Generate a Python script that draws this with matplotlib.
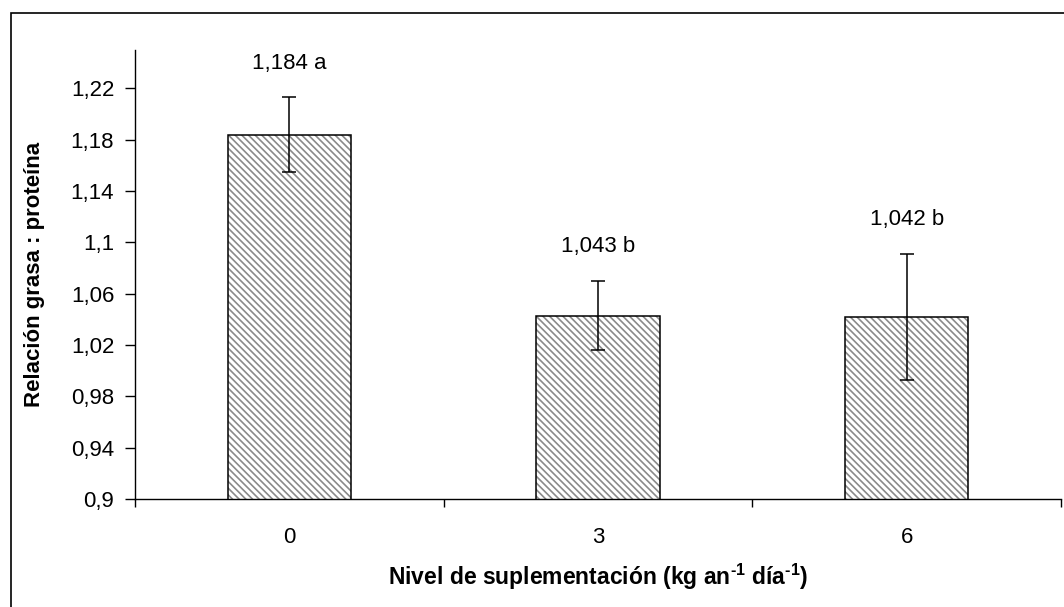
import matplotlib
matplotlib.use("Agg")
from matplotlib import pyplot as plt
from matplotlib.patches import Rectangle

niveles = ['0', '3', '6']
relacion = [1.184, 1.043, 1.042]
error = [0.029, 0.027, 0.049]
letras = ['a', 'b', 'b']
yticks = [0.9, 0.94, 0.98, 1.02, 1.06, 1.1, 1.14, 1.18, 1.22]

plt.rcParams['font.family'] = ['Liberation Sans', 'DejaVu Sans']
plt.rcParams['hatch.linewidth'] = 1.2
plt.rcParams['mathtext.fontset'] = 'custom'
plt.rcParams['mathtext.rm'] = 'Liberation Sans:bold'
plt.rcParams['mathtext.bf'] = 'Liberation Sans:bold'

fig = plt.figure(figsize=(10.64, 6.07), dpi=100)
ax = fig.add_axes([135/1064, 108/607, 926/1064, 449/607])

xs = list(range(len(niveles)))
# relleno rayado gris y luego el contorno negro
ax.bar(xs, relacion, width=0.4, color='white', edgecolor='#8a8a8a',
       linewidth=0, hatch='\\\\\\\\\\')
ax.bar(xs, relacion, width=0.4, fill=False, edgecolor='black', linewidth=1.1)
ax.errorbar(xs, relacion, yerr=error, fmt='none', ecolor='black',
            elinewidth=1.1, capsize=5, capthick=1.1)

for x, v, e, l in zip(xs, relacion, error, letras):
    txt = ('%.3f' % v).replace('.', ',') + ' ' + l
    ax.annotate(txt, (x, v + e), xytext=(0, 24.5), textcoords='offset points',
                ha='center', va='center', fontsize=16)

ax.set_xlim(-0.5, 2.5)
ax.set_ylim(0.9, 1.25)
ax.set_yticks(yticks)
ax.set_yticklabels([('%g' % t).replace('.', ',') for t in yticks], fontsize=16)
ax.set_xticks(xs)
ax.set_xticklabels(niveles, fontsize=16)
ax.set_xticks([-0.5, 0.5, 1.5, 2.5], minor=True)
ax.tick_params(axis='x', which='major', length=0, pad=20)
ax.tick_params(axis='x', which='minor', length=6, direction='out', width=1)
ax.tick_params(axis='y', length=7, width=1, pad=8)

for s in ['top', 'right']:
    ax.spines[s].set_visible(False)
for s in ['left', 'bottom']:
    ax.spines[s].set_linewidth(1)
    ax.spines[s].set_color('black')

ax.set_xlabel(r'Nivel de suplementación (kg an$^{\text{-1}}$ día$^{\text{-1}}$)',
              fontsize=16.5, fontweight='bold', labelpad=10)
ax.set_ylabel('Relación grasa : proteína', fontsize=16, fontweight='bold')
ax.yaxis.set_label_coords(-0.097, 0.5)

# marco exterior
fig.patches.append(Rectangle((11/1064, -0.1), 1.2, 1 - 13/607 + 0.1,
                             transform=fig.transFigure, fill=False,
                             edgecolor='black', linewidth=1.2))

fig.savefig('out.png', dpi=100)
